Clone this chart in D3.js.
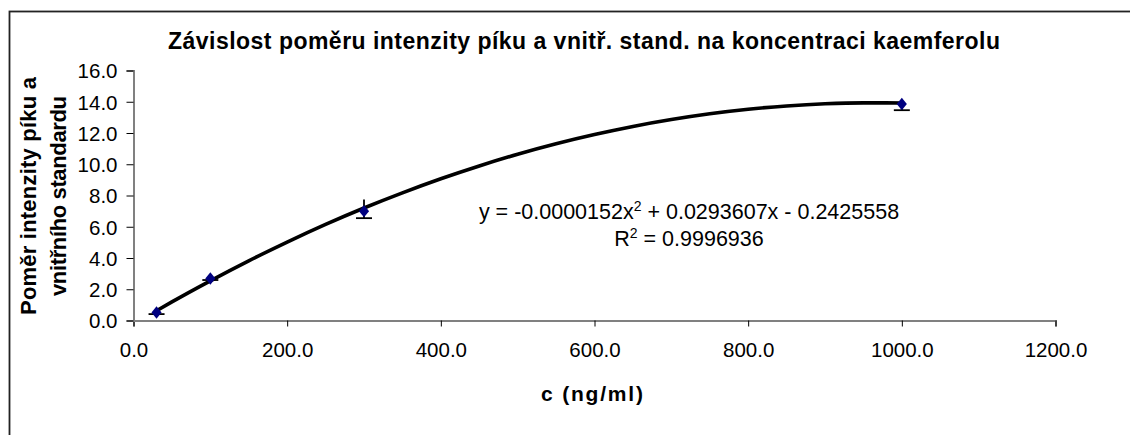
<!DOCTYPE html>
<html>
<head>
<meta charset="utf-8">
<script src="https://cdn.jsdelivr.net/npm/d3@7"></script>
<style>
	body { margin: 0; background: #fff; }
	text { font-family: "Liberation Sans", Arial, sans-serif; }
</style>
</head>
<body>
<script>
(function () {
	"use strict";

	var w = 1130;
	var h = 435;

	// measured points (c in ng/ml, ratio)
	var conc = [30, 100, 300, 1000];
	var ratio = [0.51, 2.69, 7.0, 13.86];
	var errLow = [0.1, 0.1, 0.45, 0.4];
	var errHigh = [0.1, 0.1, 0.75, 0.1];

	// trendline
	var trendX = [30, 50, 100, 150, 200, 250, 300, 350, 400, 450, 500, 550, 600, 650, 700, 750, 800, 850, 900, 950, 1000];
	var trendY = [0.62, 1.19, 2.54, 3.82, 5.02, 6.15, 7.2, 8.17, 9.07, 9.89, 10.64, 11.31, 11.9, 12.42, 12.86, 13.23, 13.52, 13.73, 13.87, 13.93, 13.92];

	var xTicks = [0, 200, 400, 600, 800, 1000, 1200];
	var yTicks = [0, 2, 4, 6, 8, 10, 12, 14, 16];

	var svg = d3.select("body")
		.append("svg")
		.attr("width", w)
		.attr("height", h);

	// chart border
	svg.append("rect")
		.attr("x", 9.5)
		.attr("y", 11.5)
		.attr("width", 1140)
		.attr("height", 440)
		.attr("fill", "none")
		.attr("stroke", "#222")
		.attr("stroke-width", 1.8);

	var xScale = d3.scaleLinear()
		.domain([0, 1200])
		.range([133.5, 1055.5]);

	var yScale = d3.scaleLinear()
		.domain([0, 16])
		.range([320.5, 70.5]);

	var xAxisGen = d3.axisBottom(xScale)
		.tickValues(xTicks)
		.tickSize(6)
		.tickPadding(16)
		.tickFormat(d3.format(".1f"));

	var yAxisGen = d3.axisLeft(yScale)
		.tickValues(yTicks)
		.tickSize(7)
		.tickPadding(9)
		.tickFormat(d3.format(".1f"));

	var xAxis = svg.append("g")
		.attr("transform", "translate(0," + yScale(0) + ")")
		.call(xAxisGen);

	var yAxis = svg.append("g")
		.attr("transform", "translate(" + xScale(0) + ",0)")
		.call(yAxisGen);

	[xAxis, yAxis].forEach(function (ax) {
		ax.select(".domain").attr("stroke", "#808080").attr("stroke-width", 2);
		ax.selectAll(".tick line").attr("stroke", "#000");
		ax.selectAll(".tick text")
			.attr("fill", "#000")
			.style("font-size", "20.5px")
			.style("font-family", "'Liberation Sans', Arial, sans-serif");
	});
	yAxis.selectAll(".tick text").attr("dy", "0.36em");

	// trendline
	var lineFun = d3.line()
		.x(function (d, i) { return xScale(trendX[i]); })
		.y(function (d) { return yScale(d); })
		.curve(d3.curveMonotoneX);

	svg.append("path")
		.attr("d", lineFun(trendY))
		.attr("fill", "none")
		.attr("stroke", "#000")
		.attr("stroke-width", 3.6);

	// error bars
	var eb = svg.append("g").attr("stroke", "#000").attr("stroke-width", 1.8);
	conc.forEach(function (c, i) {
		var x = xScale(c);
		var y0 = yScale(ratio[i] - errLow[i]);
		var y1 = yScale(ratio[i] + errHigh[i]);
		eb.append("line").attr("x1", x).attr("x2", x).attr("y1", y0).attr("y2", y1);
		eb.append("line").attr("x1", x - 8).attr("x2", x + 8).attr("y1", y0).attr("y2", y0);
	});

	// markers
	svg.append("g")
		.selectAll("path")
		.data(ratio)
		.enter()
		.append("path")
		.attr("d", d3.symbol().type(d3.symbolDiamond2).size(90))
		.attr("transform", function (d, i) {
			return "translate(" + xScale(conc[i]) + "," + yScale(d) + ") scale(0.85,1.05)";
		})
		.attr("fill", "#000080");

	// title
	svg.append("text")
		.attr("x", 584)
		.attr("y", 49)
		.attr("text-anchor", "middle")
		.attr("textLength", 832)
		.attr("lengthAdjust", "spacing")
		.style("font-size", "23px")
		.style("font-weight", "bold")
		.text("Závislost poměru intenzity píku a vnitř. stand. na koncentraci kaemferolu");

	// axis titles
	var yl = svg.append("text")
		.attr("transform", "translate(0," + 196 + ") rotate(-90)")
		.attr("text-anchor", "middle")
		.style("font-size", "22px")
		.style("font-weight", "bold");
	yl.append("tspan").attr("x", 0).attr("y", 36)
		.attr("textLength", 238).attr("lengthAdjust", "spacing")
		.text("Poměr intenzity píku a");
	yl.append("tspan").attr("x", 0).attr("y", 66)
		.attr("textLength", 200).attr("lengthAdjust", "spacing")
		.text("vnitřního standardu");

	svg.append("text")
		.attr("x", 592)
		.attr("y", 401)
		.attr("text-anchor", "middle")
		.attr("textLength", 102)
		.attr("lengthAdjust", "spacing")
		.style("font-size", "21px")
		.style("font-weight", "bold")
		.text("c (ng/ml)");

	// equation
	var eq = svg.append("text")
		.attr("x", 689)
		.attr("y", 219)
		.attr("text-anchor", "middle")
		.style("font-size", "21.5px");
	eq.append("tspan").text("y = -0.0000152x");
	eq.append("tspan").attr("dy", -8).style("font-size", "14px").text("2");
	eq.append("tspan").attr("dy", 8).text(" + 0.0293607x - 0.2425558");

	var r2 = svg.append("text")
		.attr("x", 689)
		.attr("y", 246)
		.attr("text-anchor", "middle")
		.style("font-size", "21.5px");
	r2.append("tspan").text("R");
	r2.append("tspan").attr("dy", -8).style("font-size", "14px").text("2");
	r2.append("tspan").attr("dy", 8).text(" = 0.9996936");
})();
</script>
</body>
</html>
